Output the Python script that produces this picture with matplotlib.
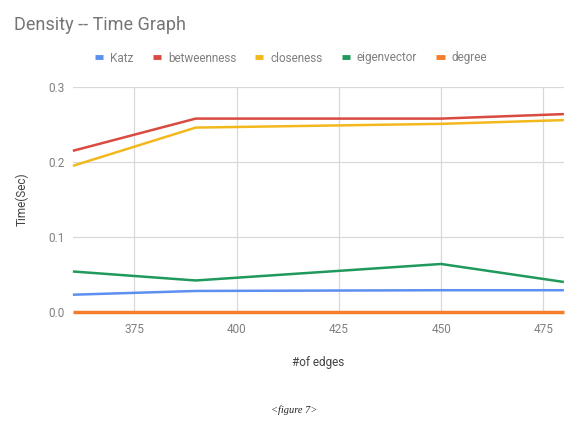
import matplotlib.pyplot as plt

plt.rcParams['font.family'] = ['Roboto', 'DejaVu Sans']

edges = [360, 390, 450, 480]
katz = [0.023, 0.028, 0.029, 0.029]
betweenness = [0.215, 0.258, 0.258, 0.264]
closeness = [0.195, 0.246, 0.251, 0.256]
eigenvector = [0.054, 0.042, 0.064, 0.040]
degree = [0.0, 0.0, 0.0, 0.0]

series = [
    ('Katz', katz, '#5b8ff0'),
    ('betweenness', betweenness, '#d94a40'),
    ('closeness', closeness, '#f2b81c'),
    ('eigenvector', eigenvector, '#1f9a5c'),
    ('degree', degree, '#f57d2c'),
]

xticks = [375, 400, 425, 450, 475]
yticks = [0.0, 0.1, 0.2, 0.3]

fig = plt.figure(figsize=(5.65, 4.25), dpi=100)
ax = fig.add_axes([0.129, 0.266, 0.869, 0.529])

for name, vals, col in series:
    lw = 2.5 if name == 'degree' else 1.8
    ax.plot(edges, vals, color=col, lw=lw, label=name, solid_capstyle='butt',
            zorder=3, clip_on=False)

ax.set_xlim(360, 480)
ax.set_ylim(0, 0.3)
ax.set_xticks(xticks)
ax.set_yticks(yticks)
ax.set_yticklabels(['%.1f' % v for v in yticks])
ax.grid(True, color='#d8d8d8', lw=0.9)
ax.set_axisbelow(True)
for s in ax.spines.values():
    s.set_visible(False)
ax.tick_params(length=0, labelsize=8.5, labelcolor='#808080', pad=8)
ax.tick_params(axis='y', pad=6)

ax.set_ylabel('Time(Sec)', fontsize=8.5, color='#444444', labelpad=14)
ax.set_xlabel('#of edges', fontsize=8.5, color='#444444', labelpad=14)

fig.text(0.025, 0.94, 'Density -- Time Graph', fontsize=13, color='#757575',
         ha='left', va='center')

leg = fig.legend(loc='center', bbox_to_anchor=(291 / 565, 1 - 58 / 425), ncol=5,
                 frameon=False, fontsize=8.5, handlelength=0.7, handletextpad=0.6,
                 columnspacing=1.6)
for h in leg.get_lines():
    h.set_linewidth(3.5)
for t in leg.get_texts():
    t.set_color('#808080')

fig.text(294 / 565, 1 - 410 / 425, '<figure 7>', fontsize=7.5, style='italic',
         family='Liberation Serif', ha='center', va='center', color='#222222')

fig.savefig('out.png', dpi=100)
